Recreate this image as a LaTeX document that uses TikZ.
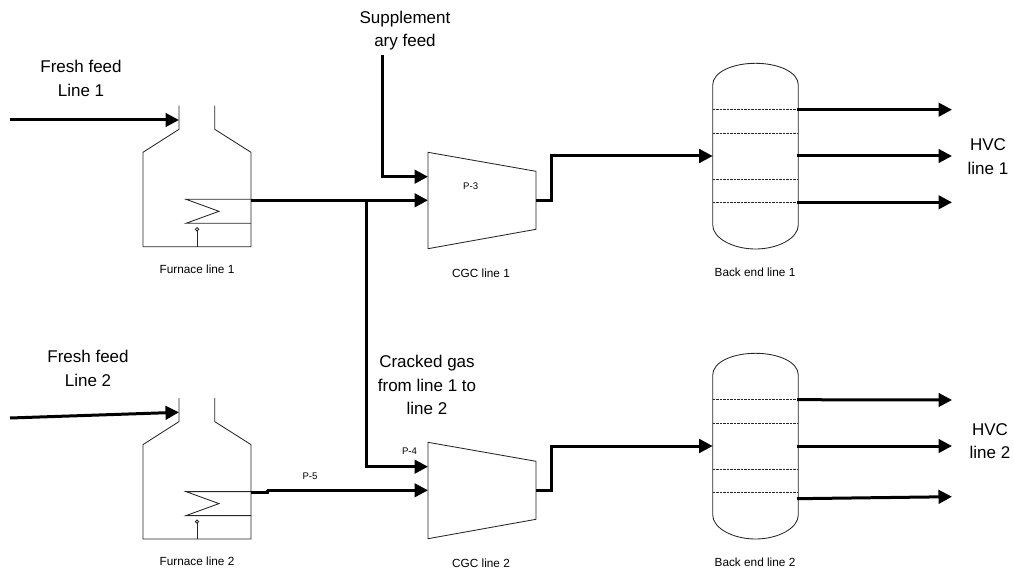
\documentclass[tikz,border=0pt]{standalone}
\usepackage{fontspec}
\setmainfont{Liberation Sans}
\usepackage{tikz}
\usetikzlibrary{arrows.meta}
\tikzset{
  unit/.style={line width=0.85pt,black!85},
  flow/.style={line width=3pt,-{Triangle[length=13.5pt,width=13.5pt]}},
  pipe/.style={line width=3pt},
  biglabel/.style={inner sep=0pt,align=center,font=\fontsize{17}{23.5}\selectfont},
  unitlabel/.style={inner sep=0pt,font=\fontsize{11.8}{14}\selectfont},
  taglabel/.style={inner sep=0pt,font=\fontsize{9.6}{12}\selectfont},
  pics/furnace/.style={code={
    \draw[unit] (36,-141) -- (36,-117.4) -- (0,-94.4) -- (0,0) -- (108,0) -- (108,-94.4) -- (71.7,-117.4) -- (71.7,-141);
    \draw[unit] (108,-47.4) -- (43,-47.4) -- (76,-35.4) -- (43,-23.4) -- (108,-23.4);
    \draw[unit] (54,0) -- (54,-15.7);
    \draw[unit,fill=white] (54,-17.4) circle (1.7);
    \coordinate (in) at (36,-126.7);
    \coordinate (out) at (108,-46.4);
    \node[unitlabel] (label) at (54,22.3) {#1};
  }},
  pics/compressor/.style={code={
    \draw[unit] (0,-48) -- (108,-29) -- (108,29) -- (0,48.4) -- cycle;
    \coordinate (side) at (0,-23.6);
    \coordinate (in) at (0,0);
    \coordinate (out) at (108,0);
    \node[unitlabel] (label) at (53,73.4) {#1};
  }},
  pics/column/.style={code={
    \draw[unit] (0,-71) .. controls (0,-84) and (20,-92.7) .. (42.8,-92.7) .. controls (65.6,-92.7) and (85.6,-84) .. (85.6,-71) -- (85.6,69) .. controls (85.6,82) and (65.6,93) .. (42.8,93) .. controls (20,93) and (0,82) .. (0,69) -- cycle;
    \draw[unit,line width=0.7pt,dash pattern=on 2.5pt off 1pt] (0,-46.3) -- (85.6,-46.3) (0,-23) -- (85.6,-23) (0,23) -- (85.6,23) (0,46.3) -- (85.6,46.3);
    \coordinate (in) at (0,0);
    \coordinate (upper) at (84.5,-46.3);
    \coordinate (middle) at (84.5,0);
    \coordinate (lower) at (84.5,46.3);
    \node[unitlabel] (label) at (42.3,116.7) {#1};
  }},
}
\begin{document}
\begin{tikzpicture}[x=1pt,y=-1pt]
\useasboundingbox (0,0) rectangle (1014,572);
% furnaces, compressors, back ends
\pic (fa) at (143,246.7) {furnace={Furnace line 1}};
\pic (fb) at (143,539) {furnace={Furnace line 2}};
\pic (ca) at (428,200.3) {compressor={CGC line 1}};
\pic (cb) at (428,490.3) {compressor={CGC line 2}};
\pic (ba) at (712.7,156) {column={Back end line 1}};
\pic (bb) at (712.7,446) {column={Back end line 2}};
% free ends
\coordinate (feeda) at (10,120);
\coordinate (feedb) at (10,418);
\coordinate (supp) at (382,55);
\coordinate (tee) at (366.5,200.3);
\coordinate (bend) at (267,490.3);
\coordinate (hvca1) at (952,109.7);
\coordinate (hvca2) at (952,156);
\coordinate (hvca3) at (952,202.3);
\coordinate (hvcb1) at (952,400);
\coordinate (hvcb2) at (952,446);
\coordinate (hvcb3s) at (797,498.7);
\coordinate (hvcb3) at (952,496.7);
% feeds
\draw[flow] (feeda) -- (fain);
\draw[flow] (feedb) -- (fbin);
\draw[flow] (supp) |- (caside);
\draw[flow] (faout) -- (cain);
\draw[flow] (tee) |- (cbside);
\draw[pipe] (fbout) -- (bend |- fbout) -- (bend);
\draw[flow] (bend) -- (cbin);
% compressor to back end
\draw[flow] (caout) -- ++(15.7,0) |- (bain);
\draw[flow] (cbout) -- ++(15.7,0) |- (bbin);
% products
\draw[flow] (baupper) -- (hvca1);
\draw[flow] (bamiddle) -- (hvca2);
\draw[flow] (balower) -- (hvca3);
\draw[flow] (bbupper) -- (hvcb1);
\draw[flow] (bbmiddle) -- (hvcb2);
\draw[flow] (hvcb3s) -- (hvcb3);
% labels
\node[biglabel] (lfa) at (81,78.5) {Fresh feed\\Line 1};
\node[biglabel] (lfb) at (88,368.5) {Fresh feed\\Line 2};
\node[biglabel] (lsu) at (405,30.5) {Supplement\\ary feed};
\node[biglabel] (lcr) at (427,385) {Cracked gas\\from line 1 to\\line 2};
\node[biglabel] (lha) at (988,156.5) {HVC\\line 1};
\node[biglabel] (lhb) at (990,441) {HVC\\line 2};
\node[taglabel] (pa) at (470.7,185.7) {P-3};
\node[taglabel] (pb) at (409.5,451.5) {P-4};
\node[taglabel] (pc) at (310,476.5) {P-5};
\end{tikzpicture}
\end{document}
